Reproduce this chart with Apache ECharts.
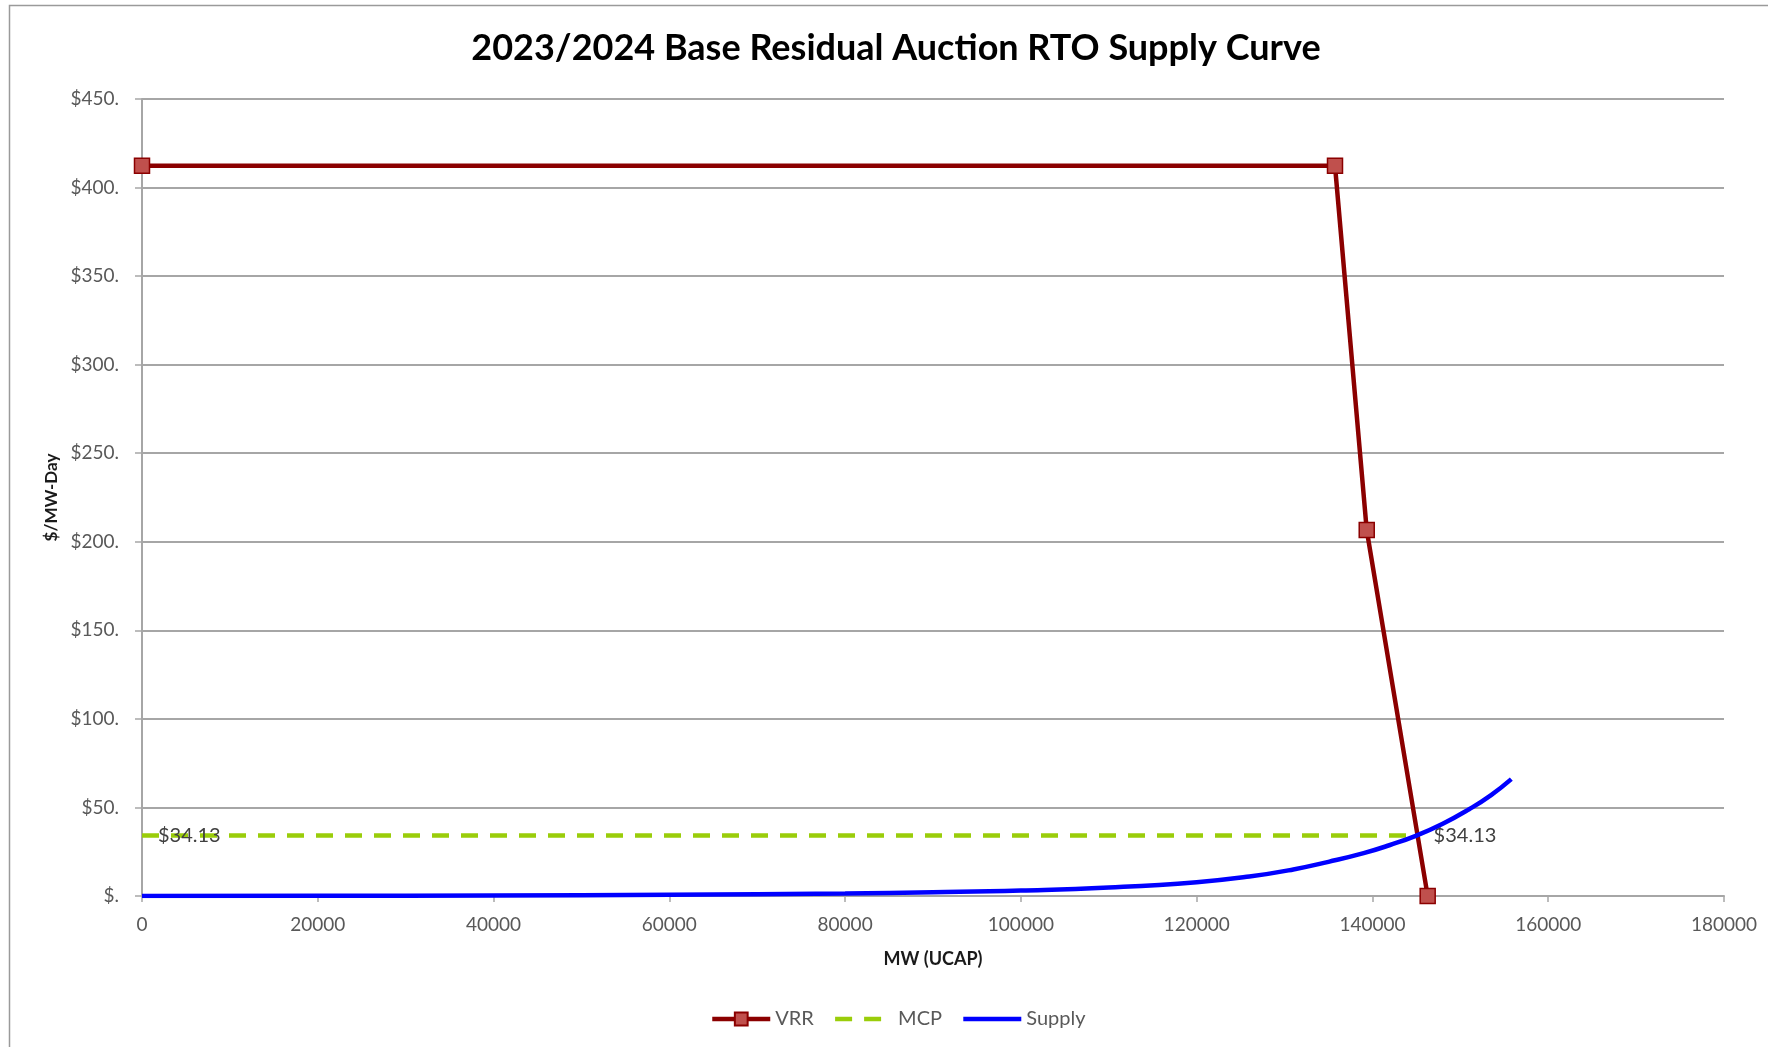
<!DOCTYPE html>
<html>
<head>
<meta charset="utf-8">
<script src="https://cdn.jsdelivr.net/npm/echarts@6/dist/echarts.min.js"></script>
<style>html,body{margin:0;padding:0;background:#fff;}#c{width:1768px;height:1047px;}</style>
</head>
<body>
<div id="c"></div>
<script>
// ---- data ----
const titleText = '2023/2024 Base Residual Auction RTO Supply Curve';
const seriesNames = ['VRR', 'MCP', 'Supply'];
const vrrMW = [0, 135740, 139350, 146285];
const vrrPrice = [412.3, 412.3, 206.6, 0];
const mcpMW = [0, 145140];
const mcpPrice = [34.13, 34.13];
const mcpLabel = '$34.13';
const supplyMW = [0, 20000, 40000, 60000, 80000, 90000, 100000, 110000, 120000, 126000, 131000, 135000, 139000, 142000, 145000, 148000, 151000, 153500, 155800];
const supplyPrice = [0, 0.1, 0.3, 0.7, 1.4, 2.1, 3.1, 4.8, 7.8, 11, 15, 19.3, 24.2, 28.8, 34.13, 40.8, 49, 57, 66];
const xTickStep = 20000, xMax = 180000;
const yTickStep = 50, yMax = 450;

const zip = (a, b) => a.map((v, i) => [v, b[i]]);
const FONT = 'Lato, "Open Sans", sans-serif';
const gridColor = '#a6a6a6';

const chart = echarts.init(document.getElementById('c'));
chart.setOption({
  animation: false,
  backgroundColor: '#fff',
  graphic: [{
    type: 'rect', silent: true, z: -10,
    shape: { x: 9.5, y: 5.5, width: 1800, height: 1100 },
    style: { fill: 'none', stroke: '#9a9a9a', lineWidth: 1.5 }
  }],
  title: {
    text: titleText, left: 891, top: 25, textAlign: 'center',
    textStyle: { fontFamily: FONT, fontWeight: 'bold', fontSize: 36, color: '#000' }
  },
  grid: { left: 142, right: 44, top: 99, bottom: 151 },
  legend: {
    left: 705, top: 1004, itemWidth: 58, itemHeight: 16, itemGap: 19,
    lineStyle: { width: 4.5 },
    data: [
      { name: seriesNames[0] },
      { name: seriesNames[1], itemStyle: { opacity: 0 } },
      { name: seriesNames[2], itemStyle: { opacity: 0 } }
    ],
    textStyle: { fontFamily: FONT, fontSize: 20, color: '#595959' }
  },
  xAxis: {
    type: 'value', min: 0, max: xMax, interval: xTickStep,
    name: 'MW (UCAP)', nameLocation: 'middle', nameGap: 54,
    nameTextStyle: { fontFamily: FONT, fontWeight: 'bold', fontSize: 18, color: '#1a1a1a' },
    axisLine: { show: true, lineStyle: { color: gridColor, width: 2 } },
    axisTick: { show: true, length: 6, lineStyle: { color: gridColor, width: 1.5 } },
    axisLabel: { fontFamily: FONT, fontSize: 19, color: '#595959', margin: 19, formatter: v => String(v) },
    splitLine: { show: false }
  },
  yAxis: {
    type: 'value', min: 0, max: yMax, interval: yTickStep,
    name: '$/MW-Day', nameLocation: 'middle', nameGap: 81, nameRotate: 90,
    nameTextStyle: { fontFamily: FONT, fontWeight: 'bold', fontSize: 17, color: '#1a1a1a' },
    axisLine: { show: true, lineStyle: { color: gridColor, width: 2 } },
    axisTick: { show: true, length: 7, lineStyle: { color: gridColor, width: 1.5 } },
    axisLabel: {
      fontFamily: FONT, fontSize: 19, color: '#595959', margin: 23,
      formatter: v => v === 0 ? '$.' : '$' + v + '.'
    },
    splitLine: { show: true, lineStyle: { color: gridColor, width: 2 } }
  },
  series: [
    {
      name: 'VRR', type: 'line', data: zip(vrrMW, vrrPrice),
      symbol: 'rect', symbolSize: 15,
      lineStyle: { color: '#8b0000', width: 4.5 },
      itemStyle: { color: '#c0504d', borderColor: '#8b0000', borderWidth: 1.5 },
      z: 3
    },
    {
      name: 'MCP', type: 'line', data: zip(mcpMW, mcpPrice),
      symbol: 'circle', symbolSize: 0, showSymbol: true,
      lineStyle: { color: '#9acd0a', width: 4.5, type: [17, 12] },
      itemStyle: { color: '#9acd0a' },
      label: {
        show: true, position: 'right', distance: 16,
        formatter: mcpLabel, fontFamily: FONT, fontSize: 20, color: '#404040'
      },
      z: 2
    },
    {
      name: 'Supply', type: 'line', data: zip(supplyMW, supplyPrice),
      symbol: 'none', smooth: 0.5,
      lineStyle: { color: '#0000ff', width: 4.5 },
      itemStyle: { color: '#0000ff' },
      z: 4
    }
  ]
});
</script>
</body>
</html>
